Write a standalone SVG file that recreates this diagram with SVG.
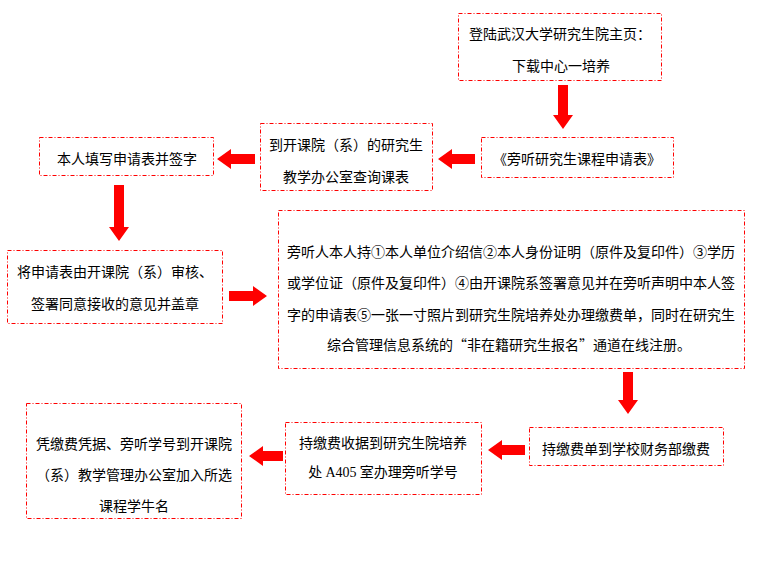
<svg xmlns="http://www.w3.org/2000/svg" width="762" height="561" viewBox="0 0 762 561">
<style>
.box{fill:#fff;stroke:#ff0000;stroke-width:1;stroke-dasharray:4 2 1 2}
.t{font-family:"Noto Sans CJK SC","Noto Sans",sans-serif;font-size:14px;fill:#000;text-anchor:middle}
.ser{font-family:"Liberation Serif",serif}
.arr{fill:#ff0000}
</style>
<rect width="762" height="561" fill="#fff"/>
<g id="connectors">
<path class="arr" d="M558,85 H568 V115 H573 L563,129 L553,115 H558 Z"/>
<path class="arr" d="M475,154 V164 H452 V169 L438,159 L452,149 V154 Z"/>
<path class="arr" d="M255,154 V164 H231 V169 L217,159 L231,149 V154 Z"/>
<path class="arr" d="M114,185 H124 V227 H129 L119,241 L109,227 H114 Z"/>
<path class="arr" d="M229,291 V301 H253 V306 L267,296 L253,286 V291 Z"/>
<path class="arr" d="M623,372 H633 V400 H638 L628,414 L618,400 H623 Z"/>
<path class="arr" d="M525,445 V455 H502 V460 L488,450 L502,440 V445 Z"/>
<path class="arr" d="M283,451 V461 H263 V466 L249,456 L263,446 V451 Z"/>
</g>
<g id="n1">
<rect class="box" x="458.5" y="13.5" width="203" height="67"/>
<text class="t" x="560" y="39">登陆武汉大学研究生院主页：</text>
<text class="t" x="561" y="71">下载中心一培养</text>
</g>
<g id="n2">
<rect class="box" x="481.5" y="137.5" width="192" height="40"/>
<text class="t" x="577" y="164">《旁听研究生课程申请表》</text>
</g>
<g id="n3">
<rect class="box" x="260.5" y="123.5" width="172" height="67"/>
<text class="t" x="346" y="150">到开课院（系）的研究生</text>
<text class="t" x="346" y="182">教学办公室查询课表</text>
</g>
<g id="n4">
<rect class="box" x="39.5" y="137.5" width="174" height="38"/>
<text class="t" x="127" y="164">本人填写申请表并签字</text>
</g>
<g id="n5">
<rect class="box" x="7.5" y="250.5" width="215" height="73"/>
<text class="t" x="115" y="277">将申请表由开课院（系）审核、</text>
<text class="t" x="115" y="309">签署同意接收的意见并盖章</text>
</g>
<g id="n6">
<rect class="box" x="278.5" y="210.5" width="466" height="158"/>
<text class="t" x="511" y="257">旁听人本人持①本人单位介绍信②本人身份证明（原件及复印件）③学历</text>
<text class="t" x="511" y="288">或学位证（原件及复印件）④由开课院系签署意见并在旁听声明中本人签</text>
<text class="t" x="511" y="320">字的申请表⑤一张一寸照片到研究生院培养处办理缴费单，同时在研究生</text>
<text class="t" x="509" y="350">综合管理信息系统的“非在籍研究生报名”通道在线注册。</text>
</g>
<g id="n7">
<rect class="box" x="529.5" y="427.5" width="194" height="38"/>
<text class="t" x="626" y="454">持缴费单到学校财务部缴费</text>
</g>
<g id="n8">
<rect class="box" x="285.5" y="422.5" width="196" height="72"/>
<text class="t" x="383" y="448">持缴费收据到研究生院培养</text>
<text class="t" x="383" y="477">处 <tspan class="ser">A405</tspan> 室办理旁听学号</text>
</g>
<g id="n9">
<rect class="box" x="26.5" y="403.5" width="215" height="115"/>
<text class="t" x="134" y="449">凭缴费凭据、旁听学号到开课院</text>
<text class="t" x="134" y="480">（系）教学管理办公室加入所选</text>
<text class="t" x="134" y="511">课程学牛名</text>
</g>
</svg>
